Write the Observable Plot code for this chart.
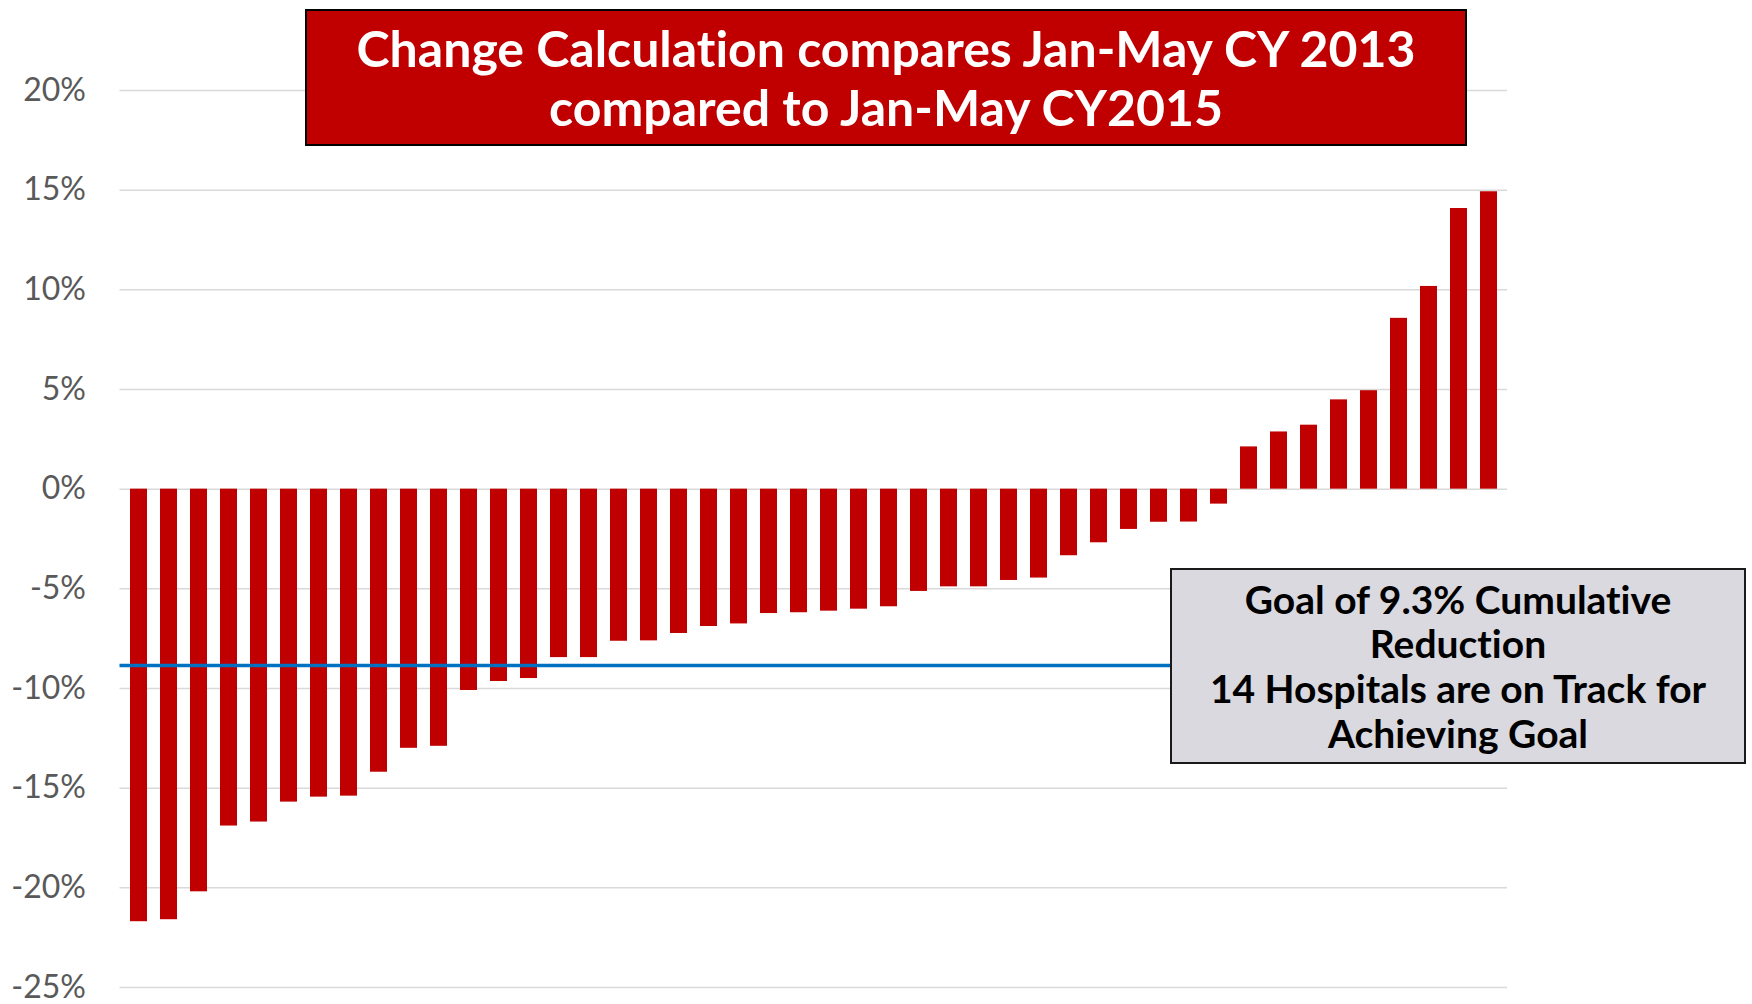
<!DOCTYPE html>
<html><head><meta charset="utf-8">
<script src="https://cdn.jsdelivr.net/npm/d3@7"></script>
<script src="https://cdn.jsdelivr.net/npm/@observablehq/plot@0.6"></script>
<style>
body{margin:0;background:#fff;}
#wrap{position:relative;width:1752px;height:1004px;overflow:hidden;font-family:Lato,"Open Sans",sans-serif;font-variant-ligatures:none;}
#chart{position:absolute;left:0;top:0;}
.box{position:absolute;box-sizing:border-box;display:flex;flex-direction:column;justify-content:center;align-items:center;text-align:center;font-weight:bold;white-space:nowrap;}
#title{left:305px;top:9px;width:1162px;height:137px;background:#C00000;border:2px solid #000;color:#fff;font-size:50px;line-height:59px;}
#note{left:1170px;top:568px;width:576px;height:196px;background:#D9D9DF;border:2px solid #1a1a1a;color:#000;font-size:39px;line-height:44.7px;}
</style>
</head><body>
<div id="wrap">
  <div id="chart"></div>
  <div class="box" id="title"><div>Change Calculation compares Jan-May CY 2013</div><div>compared to Jan-May CY2015</div></div>
  <div class="box" id="note"><div>Goal of 9.3% Cumulative</div><div>Reduction</div><div>14 Hospitals are on Track for</div><div>Achieving Goal</div></div>
</div>
<script>
const hospitals = ["H01","H02","H03","H04","H05","H06","H07","H08","H09","H10","H11","H12","H13","H14","H15","H16","H17","H18","H19","H20","H21","H22","H23","H24","H25","H26","H27","H28","H29","H30","H31","H32","H33","H34","H35","H36","H37","H38","H39","H40","H41","H42","H43","H44","H45","H46"];
const changePct = [-21.7,-21.6,-20.2,-16.9,-16.7,-15.7,-15.45,-15.4,-14.2,-13.0,-12.9,-10.1,-9.65,-9.5,-8.45,-8.45,-7.63,-7.61,-7.24,-6.89,-6.76,-6.24,-6.2,-6.12,-6.02,-5.9,-5.13,-4.9,-4.9,-4.58,-4.46,-3.34,-2.69,-2.02,-1.66,-1.65,-0.75,2.12,2.87,3.21,4.48,4.94,8.57,10.17,14.08,14.92];
const goalLine = [-8.85];
const yTicks = [20,15,10,5,0,-5,-10,-15,-20,-25];

const data = hospitals.map((h,i)=>({h, v: changePct[i]}));

const chart = Plot.plot({
  width:1752, height:1004,
  marginLeft:119.5, marginRight:245, marginTop:90, marginBottom:17,
  style:{fontFamily:"Lato, 'Open Sans', sans-serif", color:"#595959", background:"transparent"},
  x:{type:"band", domain:hospitals, paddingInner:0.42, paddingOuter:0.21, axis:null},
  y:{domain:[-25,20], label:null},
  marks:[
    Plot.gridY(yTicks,{stroke:"#D9D9D9", strokeOpacity:1, strokeWidth:1.5}),
    Plot.barY(data,{x:"h", y:"v", fill:"#C00000"}),
    Plot.ruleY(goalLine,{stroke:"#0070C0", strokeWidth:3.5}),
    Plot.axisY(yTicks,{tickSize:0, tickPadding:34, fontSize:32, tickFormat:d=>d+"%", label:null})
  ]
});
document.getElementById("chart").appendChild(chart);
</script>
</body></html>
